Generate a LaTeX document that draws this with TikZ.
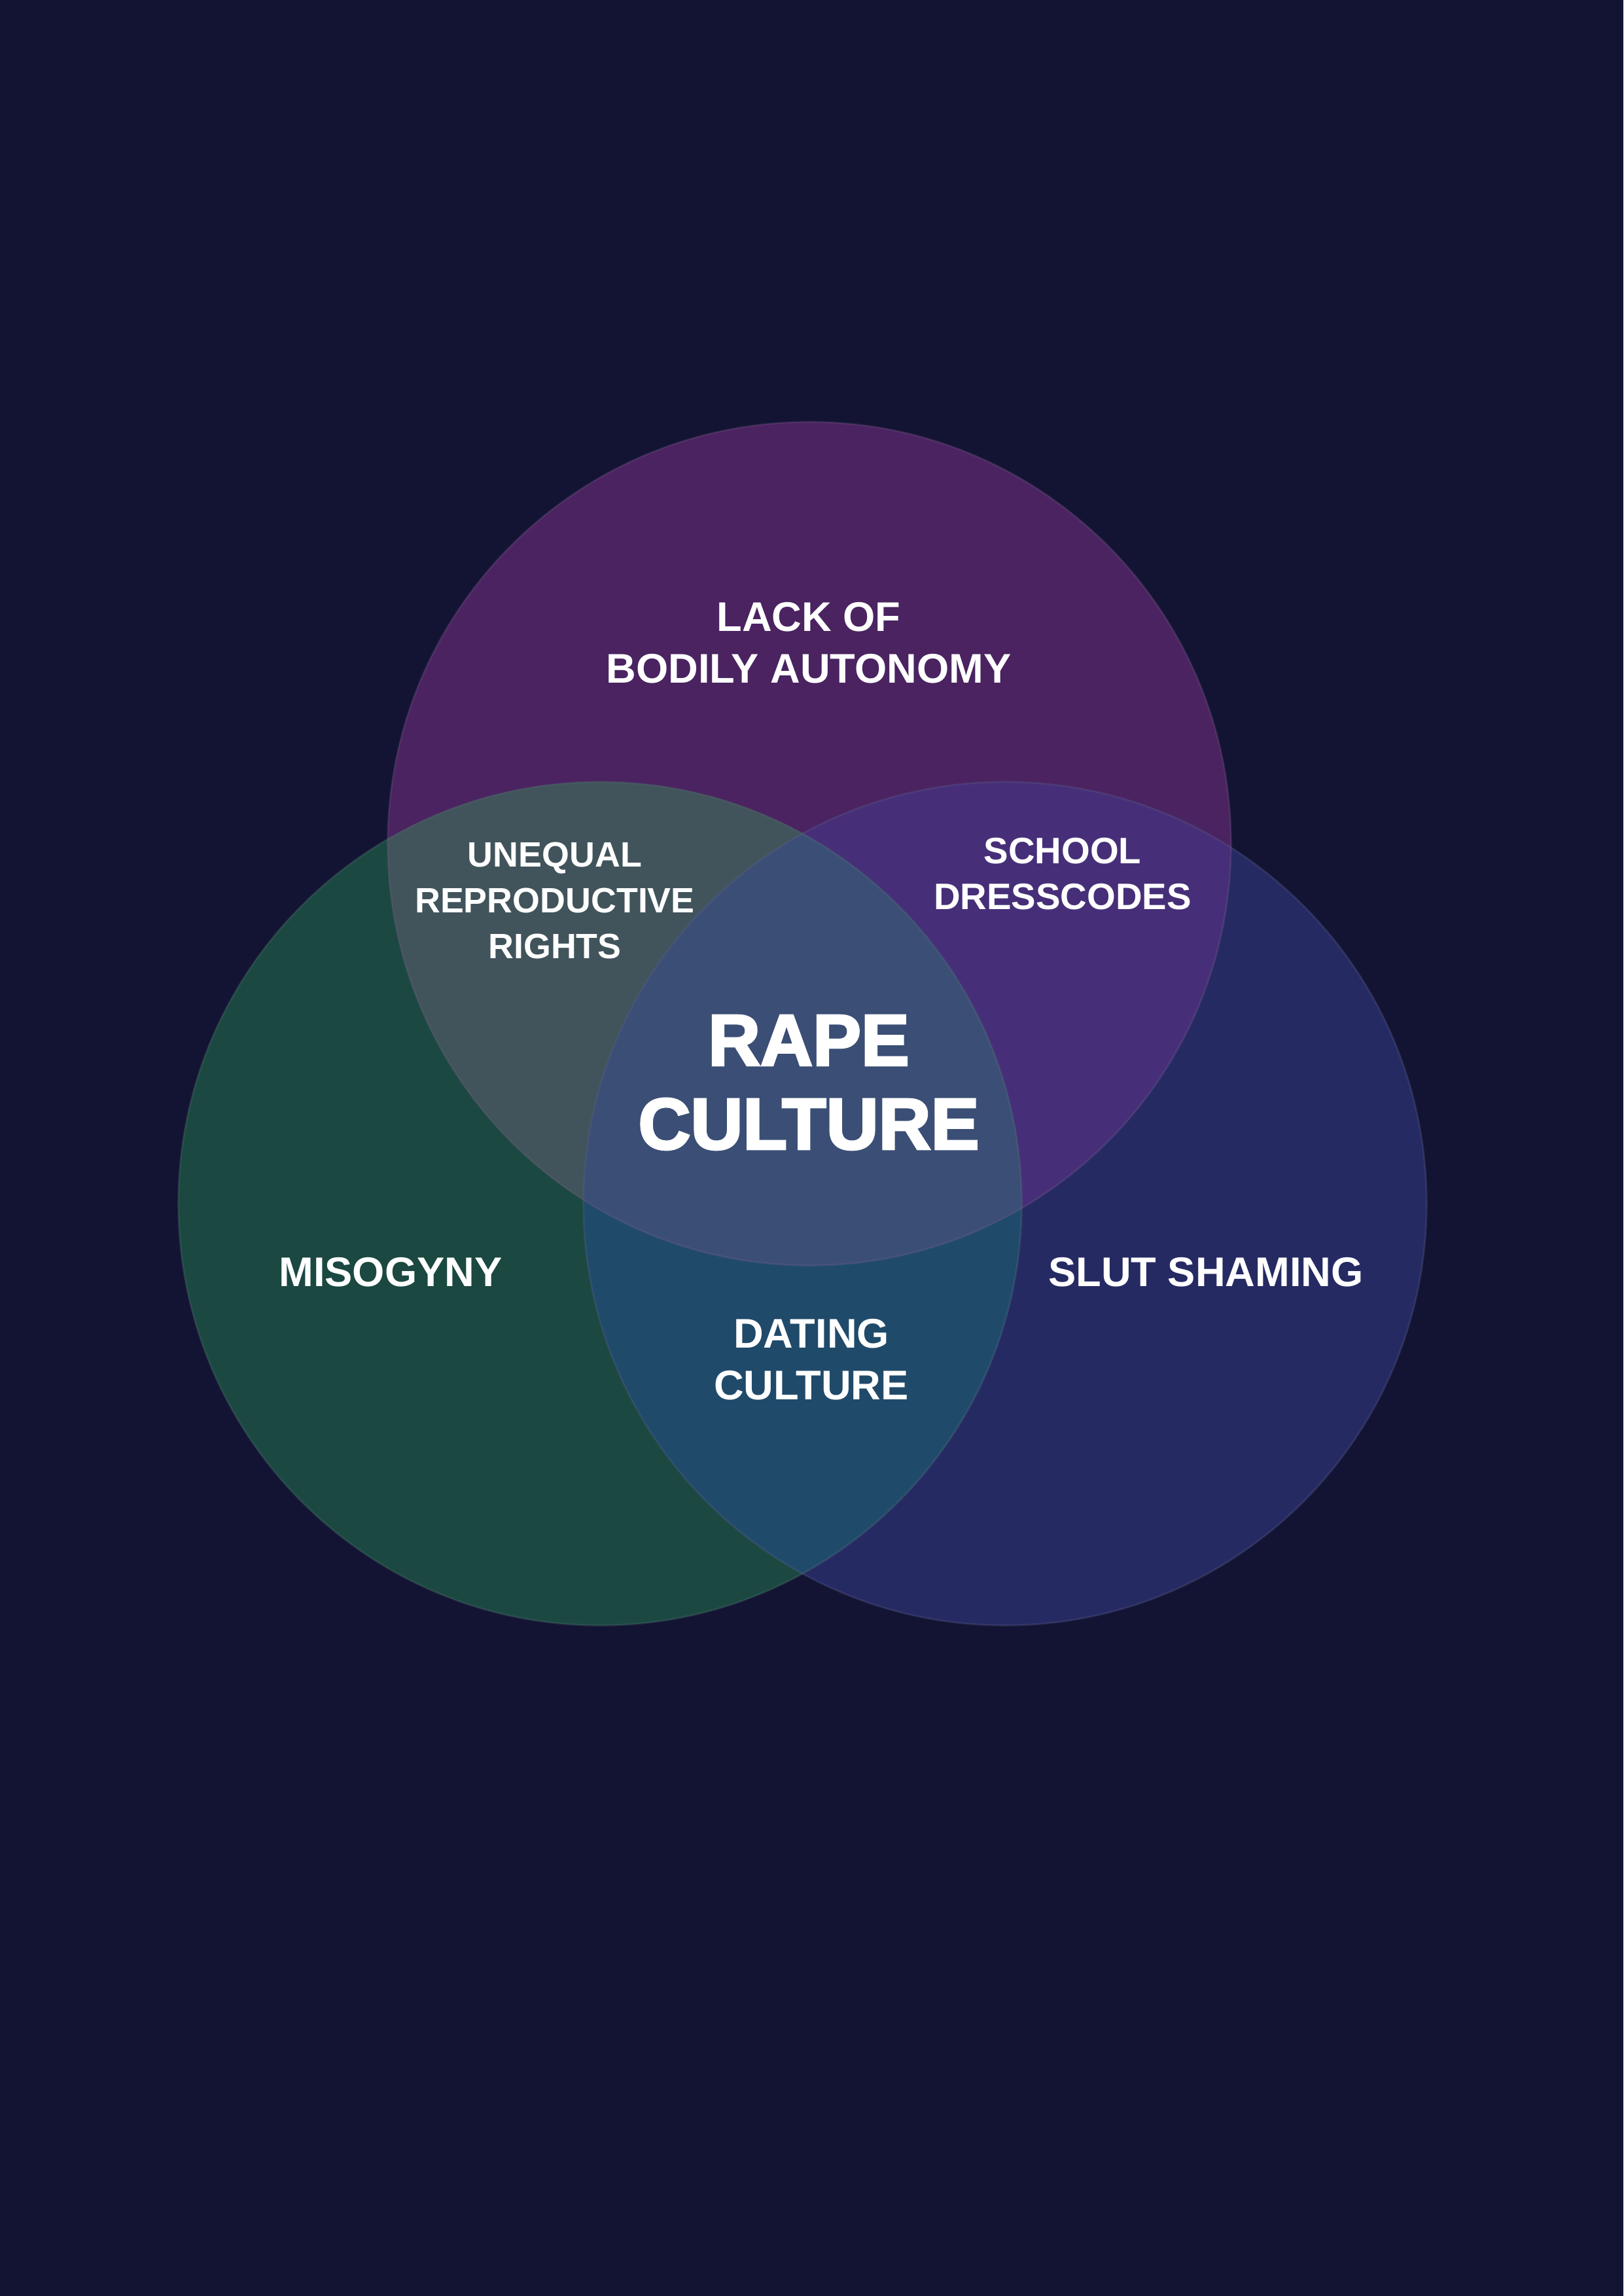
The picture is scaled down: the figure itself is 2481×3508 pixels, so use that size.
\documentclass[tikz,border=0pt]{standalone}
\usepackage{fontspec}
\setmainfont{Liberation Sans}
\newfontfamily\heavyfont{Liberation Sans}[BoldFeatures={FakeBold=3}]

\definecolor{bgnavy}{HTML}{131433}
\definecolor{topviolet}{HTML}{4A2360}
\definecolor{leftgreen}{HTML}{1B4841}
\definecolor{rightblue}{HTML}{262A63}
\definecolor{topleft}{HTML}{41535B}
\definecolor{topright}{HTML}{462F78}
\definecolor{leftright}{HTML}{204A6A}
\definecolor{allthree}{HTML}{3B4E75}

\begin{document}
\begin{tikzpicture}[
    x=0.01cm, y=-0.01cm,
    venntext/.style={
      text=white,
      align=center,
      inner sep=0pt,
      font=\bfseries\fontsize{18}{22.5}\selectfont
    },
    pairtext/.style={venntext, font=\bfseries\fontsize{16}{19.8}\selectfont},
    coretext/.style={venntext, font=\heavyfont\bfseries\fontsize{31.5}{36.4}\selectfont},
    rim/.style={line width=0.8pt, draw opacity=0.25}
  ]
    % page
    \fill[bgnavy] (0,0) rectangle (2481,3508);

    \coordinate (topc) at (1237,1289);
    \coordinate (leftc) at (917,1839);
    \coordinate (rightc) at (1536,1839);

    % the three sets
    \fill[topviolet] (topc) circle[radius=6.44cm];
    \fill[leftgreen] (leftc) circle[radius=6.44cm];
    \fill[rightblue] (rightc) circle[radius=6.44cm];

    % overlaps
    \begin{scope}
      \clip (topc) circle[radius=6.44cm];
      \fill[topleft] (leftc) circle[radius=6.44cm];
      \fill[topright] (rightc) circle[radius=6.44cm];
    \end{scope}
    \begin{scope}
      \clip (leftc) circle[radius=6.44cm];
      \fill[leftright] (rightc) circle[radius=6.44cm];
      \clip (rightc) circle[radius=6.44cm];
      \fill[allthree] (topc) circle[radius=6.44cm];
    \end{scope}

    % rims
    \draw[rim, draw=topviolet!70!white] (topc) circle[radius=6.44cm];
    \draw[rim, draw=leftgreen!70!white] (leftc) circle[radius=6.44cm];
    \draw[rim, draw=rightblue!70!white] (rightc) circle[radius=6.44cm];

    \node[venntext] (lack) at (1236,982) {LACK OF\\BODILY AUTONOMY};
    \node[pairtext, font=\bfseries\fontsize{15.3}{19.8}\selectfont] (unequal) at (848,1376) {UNEQUAL\\REPRODUCTIVE\\RIGHTS};
    \node[pairtext] (school) at (1624,1335) {SCHOOL\\DRESSCODES};
    \node[coretext] (rape) at (1236,1654) {RAPE\\CULTURE};
    \node[venntext] (misogyny) at (597,1944) {MISOGYNY};
    \node[venntext] (slut) at (1843,1944) {SLUT SHAMING};
    \node[venntext] (dating) at (1240,2077) {DATING\\CULTURE};
  \end{tikzpicture}
\end{document}
